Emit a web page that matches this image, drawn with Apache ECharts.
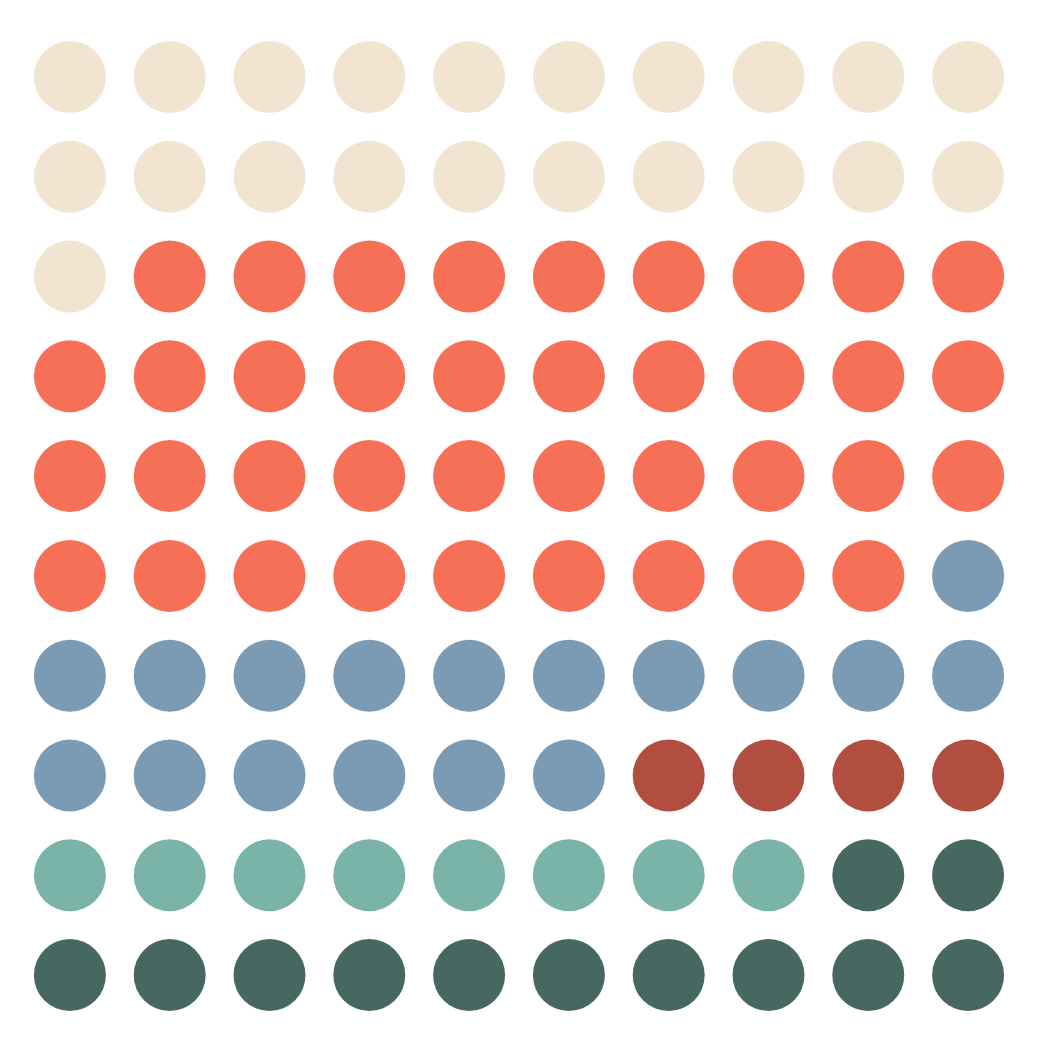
<!DOCTYPE html>
<html>
<head>
<meta charset="utf-8">
<style>
html, body { margin: 0; padding: 0; background: #fff; }
#main { width: 1043px; height: 1043px; }
</style>
<script src="https://cdn.jsdelivr.net/npm/echarts@6/dist/echarts.min.js"></script>
</head>
<body>
<div id="main"></div>
<script>
// waffle categories, filled row by row from the top left
var categories = ['A', 'B', 'C', 'D', 'E', 'F'];
var counts = [21, 38, 17, 4, 8, 12];
var colors = ['#f1e4d0', '#f67058', '#7a9bb3', '#b24e40', '#7ab3a7', '#476860'];
var cols = 10;

var chart = echarts.init(document.getElementById('main'), null, { renderer: 'canvas' });

var series = [];
var cell = 0;
for (var i = 0; i < categories.length; i++) {
	var pts = [];
	for (var k = 0; k < counts[i]; k++) {
		pts.push([cell % cols, Math.floor(cell / cols)]);
		cell++;
	}
	series.push({
		name: categories[i],
		type: 'scatter',
		symbol: 'circle',
		symbolSize: 72,
		silent: true,
		itemStyle: { color: colors[i], opacity: 1 },
		data: pts
	});
}

var option = {
	animation: false,
	backgroundColor: '#ffffff',
	grid: { left: 20, right: 25, top: 27, bottom: 18 },
	xAxis: { type: 'value', min: -0.5, max: 9.5, show: false },
	yAxis: { type: 'value', min: -0.5, max: 9.5, inverse: true, show: false },
	series: series
};
chart.setOption(option);
</script>
</body>
</html>
